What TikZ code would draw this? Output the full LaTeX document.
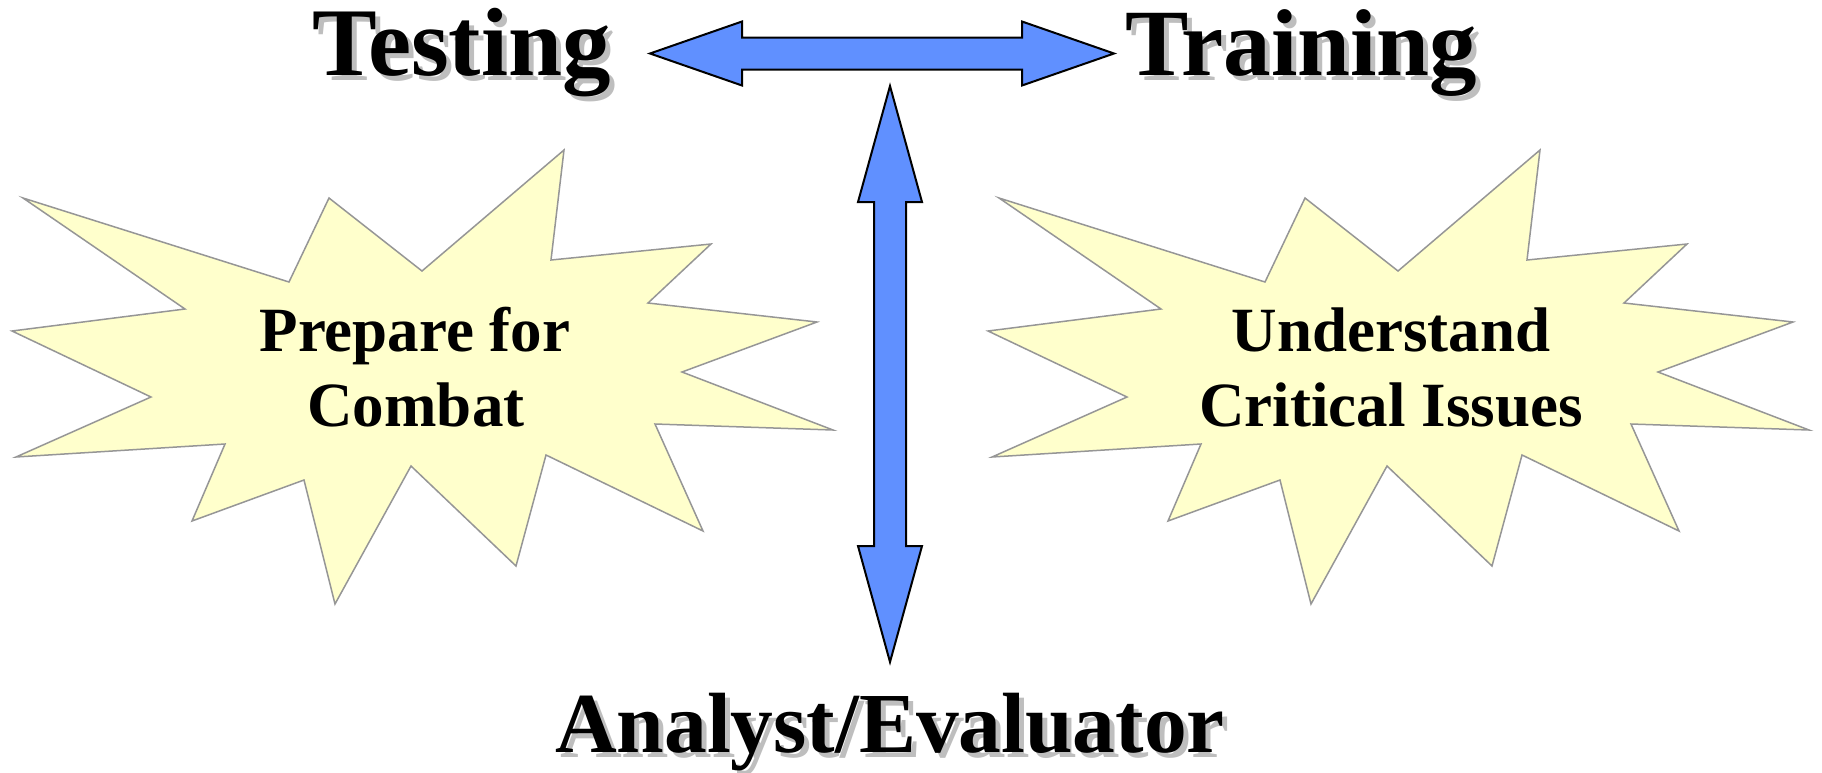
\documentclass[tikz,border=0pt]{standalone}
\usepackage{fontspec}
\setmainfont{Liberation Serif}
\definecolor{starfill}{RGB}{255,255,204}
\definecolor{starline}{RGB}{150,150,150}
\definecolor{arrowblue}{RGB}{96,144,255}
\definecolor{shadowgray}{RGB}{190,190,190}
\tikzset{
  bigtitle/.style={font=\fontsize{97}{97}\selectfont\bfseries, inner sep=0pt},
  bigtitleb/.style={font=\fontsize{95}{95}\selectfont\bfseries, inner sep=0pt},
  bottomtitle/.style={font=\fontsize{85.5}{85.5}\selectfont\bfseries, inner sep=0pt, anchor=base},
  shadowtxt/.style={text=shadowgray},
  startext/.style={font=\fontsize{63}{75}\selectfont\bfseries, inner sep=0pt, anchor=base},
  starshape/.style={draw=starline, fill=starfill, line width=1.5pt, line join=miter},
  blockarrow/.style={draw=black, fill=arrowblue, line width=2pt, line join=miter}
}
\begin{document}
\begin{tikzpicture}[x=1pt,y=-1pt]
\useasboundingbox (0,0) rectangle (1822,772);
% stars
\foreach \sx in {0,976}{
\begin{scope}[xshift=\sx pt]
\draw[starshape] (23,198) -- (289,282) -- (329,198) -- (422,271) -- (564,150)
 -- (551,260) -- (711,244) -- (648,303) -- (817,322) -- (682,372) -- (833,430)
 -- (655,424) -- (703,531) -- (546,455) -- (516,566) -- (411,466) -- (335,604)
 -- (304,480) -- (192,521) -- (225,444) -- (16,457) -- (151,397) -- (12,331)
 -- (185,309) -- cycle;
\end{scope}
}
% star texts
\node[startext] (prep) at (415,351) {Prepare for};
\node[startext] (comb) at (416,426) {Combat};
\node[startext] (unde) at (1391,351) {Understand};
\node[startext] (crit) at (1391,426) {Critical Issues};
% arrows
\draw[blockarrow] (650,53.5) -- (742,21.5) -- (742,37.5) -- (1022,37.5) -- (1022,21.5)
 -- (1114,53.5) -- (1022,85.5) -- (1022,69.5) -- (742,69.5) -- (742,85.5) -- cycle;
\draw[blockarrow] (890,86) -- (922,202) -- (906,202) -- (906,546) -- (922,546)
 -- (890,662) -- (858,546) -- (874,546) -- (874,202) -- (858,202) -- cycle;
% titles with shadows
\node[bigtitle, shadowtxt, anchor=base west] (tests) at (317,80) {Testing};
\node[bigtitle, anchor=base west] (test) at (312,75) {Testing};
\node[bigtitleb, shadowtxt, anchor=base west] (trains) at (1130,80) {Training};
\node[bigtitleb, anchor=base west] (train) at (1125,75) {Training};
\node[bottomtitle, shadowtxt] (anas) at (895,757) {Analyst/Evaluator};
\node[bottomtitle] (ana) at (890,752) {Analyst/Evaluator};
\end{tikzpicture}
\end{document}
